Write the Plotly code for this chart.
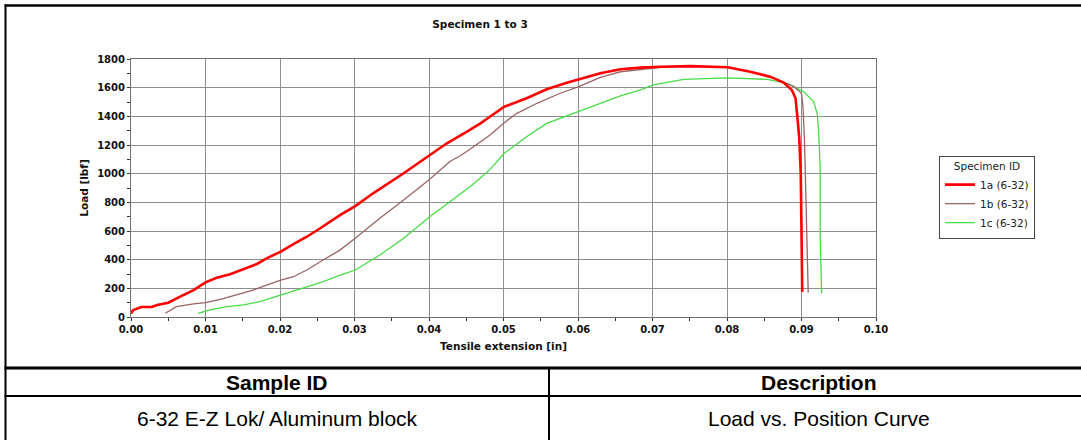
import plotly.graph_objects as go

# ---------------- data ----------------
x_1a = [0.0000, 0.0003, 0.0014, 0.0028, 0.0035, 0.0046, 0.0050, 0.0066, 0.0084, 0.0100,
        0.0115, 0.0133, 0.0151, 0.0169, 0.0182, 0.0201, 0.0218, 0.0236, 0.0254, 0.0281,
        0.0301, 0.0325, 0.0366, 0.0401, 0.0424, 0.0451, 0.0469, 0.0487, 0.0501, 0.0531,
        0.0558, 0.0585, 0.0601, 0.0630, 0.0657, 0.0684, 0.0711, 0.0751, 0.0801, 0.0831,
        0.0858, 0.0876, 0.0887, 0.0892, 0.0894, 0.0897, 0.0899, 0.0900, 0.0901]
y_1a = [25, 49, 70, 70, 84, 92, 100, 142, 188, 242,
        274, 298, 333, 370, 409, 456, 509, 560, 619, 712,
        774, 863, 1003, 1130, 1212, 1293, 1351, 1416, 1467, 1526,
        1589, 1635, 1658, 1700, 1728, 1740, 1746, 1750, 1742, 1711,
        1677, 1635, 1584, 1526, 1420, 1250, 1000, 540, 175]

x_1b = [0.0046, 0.0061, 0.0084, 0.0100, 0.0120, 0.0142, 0.0164, 0.0182, 0.0201, 0.0218,
        0.0236, 0.0258, 0.0280, 0.0301, 0.0334, 0.0366, 0.0401, 0.0428, 0.0442, 0.0455,
        0.0482, 0.0501, 0.0518, 0.0545, 0.0576, 0.0601, 0.0630, 0.0657, 0.0684, 0.0711,
        0.0751, 0.0801, 0.0831, 0.0863, 0.0890, 0.0900, 0.0902, 0.0904, 0.0906, 0.0908,
        0.0909]
y_1b = [26, 72, 91, 100, 123, 153, 188, 223, 258, 281,
        328, 398, 465, 549, 689, 816, 961, 1085, 1125, 1170,
        1270, 1356, 1421, 1491, 1561, 1607, 1672, 1711, 1728, 1742,
        1748, 1742, 1712, 1665, 1607, 1561, 1467, 1235, 816, 467,
        170]

x_1c = [0.0090, 0.0106, 0.0129, 0.0151, 0.0173, 0.0201, 0.0223, 0.0236, 0.0254, 0.0280,
        0.0301, 0.0334, 0.0366, 0.0401, 0.0428, 0.0442, 0.0455, 0.0469, 0.0482, 0.0501,
        0.0531, 0.0558, 0.0576, 0.0601, 0.0630, 0.0657, 0.0684, 0.0701, 0.0742, 0.0801,
        0.0854, 0.0881, 0.0903, 0.0916, 0.0921, 0.0923, 0.0925, 0.0925, 0.0926, 0.0927]
y_1c = [26, 49, 72, 84, 107, 153, 190, 211, 239, 290,
        328, 433, 549, 700, 804, 858, 909, 970, 1030, 1142,
        1258, 1351, 1386, 1439, 1491, 1542, 1584, 1619, 1658, 1668,
        1658, 1630, 1572, 1505, 1421, 1300, 1049, 584, 211, 165]

series_names = ["1a (6-32)", "1b (6-32)", "1c (6-32)"]
title_text = "Specimen 1 to 3"
x_title = "Tensile extension [in]"
y_title = "Load [lbf]"
legend_title = "Specimen ID"
table_header = ["Sample ID", "Description"]
table_row = ["6-32 E-Z Lok/ Aluminum block", "Load vs. Position Curve"]

# ---------------- layout helpers (pixel -> paper) ----------------
W, H = 1081, 440
L, R, T, B = 131, 876, 59, 317


def px(x):
    return (x - L) / (R - L)


def py(y):
    return (B - y) / (B - T)


FONT = "DejaVu Sans"
TFONT = "Liberation Sans, Arial, sans-serif"

fig = go.Figure()
fig.add_trace(go.Scatter(x=x_1c, y=y_1c, mode="lines", name=series_names[2], legendrank=3,
                         line=dict(color="#45dc45", width=1.3)))
fig.add_trace(go.Scatter(x=x_1b, y=y_1b, mode="lines", name=series_names[1], legendrank=2,
                         line=dict(color="#9a6464", width=1.3)))
fig.add_trace(go.Scatter(x=x_1a, y=y_1a, mode="lines", name=series_names[0], legendrank=1,
                         line=dict(color="#ff0000", width=2.6)))

axis_common = dict(
    showgrid=True, gridcolor="#8e8e8e", gridwidth=1,
    showline=True, linecolor="#707070", linewidth=1, mirror=True,
    ticks="outside", ticklen=3, tickcolor="#333", zeroline=False,
    tickfont=dict(family=FONT, size=10, color="#111", weight="bold"),
)

fig.update_xaxes(range=[0, 0.1], dtick=0.01, tick0=0, tickformat=".2f",
                 title=dict(text=x_title, standoff=8,
                            font=dict(family=FONT, size=10.5, color="#111", weight="bold")),
                 minor=dict(dtick=0.005, ticks="outside", ticklen=3, tickcolor="#333", showgrid=False),
                 **axis_common)
fig.update_yaxes(range=[0, 1800], dtick=200, tick0=0,
                 title=dict(text=y_title, standoff=6,
                            font=dict(family=FONT, size=10.5, color="#111", weight="bold")),
                 minor=dict(dtick=100, ticks="outside", ticklen=3, tickcolor="#333", showgrid=False),
                 **axis_common)

shapes = []


def hline(y, x0, x1, w):
    shapes.append(dict(type="line", xref="paper", yref="paper", x0=px(x0), x1=px(x1),
                       y0=py(y), y1=py(y), line=dict(color="black", width=w)))


def vline(x, y0, y1, w):
    shapes.append(dict(type="line", xref="paper", yref="paper", x0=px(x), x1=px(x),
                       y0=py(y0), y1=py(y1), line=dict(color="black", width=w)))


hline(5.5, 4.5, 1081, 2.5)     # outer frame top
vline(5.5, 4.5, 440, 2)        # outer frame left
hline(368, 4.5, 1081, 3)       # chart / table separator
hline(396, 4.5, 1081, 2)       # header row bottom
vline(549, 368, 440, 2)        # column divider

annotations = []
for txt, cx in zip(table_header, [277, 819]):
    annotations.append(dict(text=txt, x=px(cx), y=py(382.5), xref="paper", yref="paper",
                            showarrow=False, xanchor="center", yanchor="middle",
                            font=dict(family=TFONT, size=21, color="black", weight="bold")))
for txt, cx in zip(table_row, [277, 819]):
    annotations.append(dict(text=txt, x=px(cx), y=py(418.5), xref="paper", yref="paper",
                            showarrow=False, xanchor="center", yanchor="middle",
                            font=dict(family=TFONT, size=21, color="black")))

fig.update_layout(
    width=W, height=H,
    margin=dict(l=L, r=W - R, t=T, b=H - B, pad=0),
    paper_bgcolor="white", plot_bgcolor="white",
    title=dict(text=title_text, xref="container", yref="container",
               x=480 / W, y=1 - 24.5 / H, xanchor="center", yanchor="middle",
               font=dict(family=FONT, size=10.5, color="#111", weight="bold")),
    legend=dict(x=px(939), xanchor="left", y=py(197), yanchor="middle",
                bordercolor="#444", borderwidth=1, bgcolor="white",
                font=dict(family=FONT, size=10.5, color="#222"),
                title=dict(text=legend_title, side="top center",
                           font=dict(family=FONT, size=10.5, color="#222")),
                tracegroupgap=0),
    showlegend=True,
    shapes=shapes,
    annotations=annotations,
)

fig.write_html("out.html",
               config={"displayModeBar": False},
               post_script="document.body.style.margin='0';document.body.style.padding='0';"
                           "document.body.style.overflow='hidden';")
